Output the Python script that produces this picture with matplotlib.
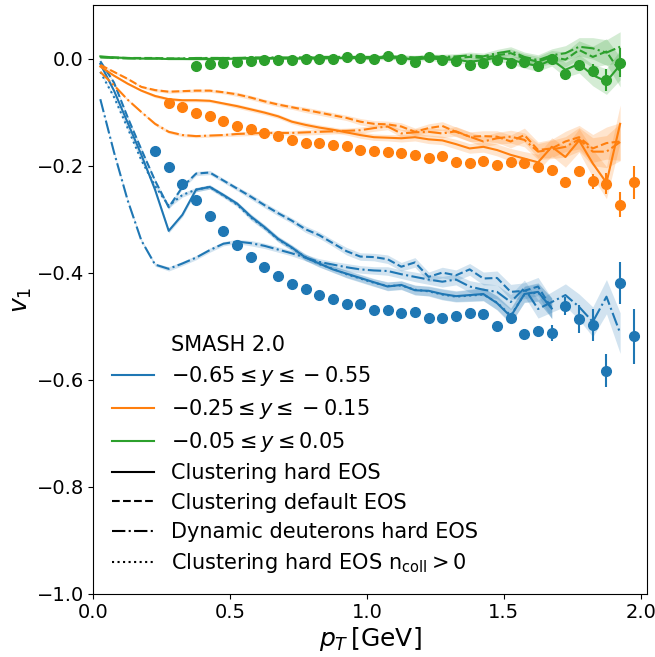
"""Directed flow v1 of deuterons vs pT: SMASH 2.0 models against data."""
import matplotlib

matplotlib.use("Agg")
import matplotlib.pyplot as plt
import numpy as np
from matplotlib.ticker import MultipleLocator

# --- model curves, pT bins of 0.05 GeV starting at 0.025 ---
pt_model = np.round(np.arange(0.025, 1.95, 0.05), 3)

blue_solid = [-0.010, -0.060, -0.120, -0.180, -0.245, -0.322, -0.292, -0.245, -0.240, -0.255,
              -0.271, -0.295, -0.315, -0.337, -0.353, -0.372, -0.383, -0.394, -0.402, -0.410,
              -0.418, -0.426, -0.423, -0.433, -0.434, -0.440, -0.444, -0.442, -0.440, -0.457,
              -0.482, -0.440, -0.436, -0.467]
blue_dashed = [-0.005, -0.045, -0.110, -0.170, -0.228, -0.278, -0.240, -0.215, -0.213, -0.228,
               -0.243, -0.258, -0.274, -0.289, -0.303, -0.319, -0.330, -0.345, -0.360, -0.370,
               -0.371, -0.375, -0.389, -0.381, -0.408, -0.400, -0.405, -0.394, -0.411, -0.410,
               -0.436, -0.434, -0.426, -0.467]
blue_dashdot = [-0.076, -0.175, -0.265, -0.340, -0.385, -0.393, -0.383, -0.372, -0.358, -0.346,
                -0.342, -0.345, -0.350, -0.357, -0.364, -0.372, -0.380, -0.385, -0.390, -0.394,
                -0.396, -0.397, -0.403, -0.408, -0.413, -0.417, -0.413, -0.426, -0.432, -0.436,
                -0.455, -0.429, -0.468, -0.455, -0.442, -0.464, -0.492, -0.445, -0.513]
blue_dotted = [-0.025, -0.072, -0.130, -0.190, -0.238, -0.275, -0.255, -0.245, -0.240, -0.256,
               -0.273, -0.297, -0.316, -0.338, -0.354, -0.371, -0.384, -0.393, -0.403, -0.411,
               -0.419, -0.425, -0.424, -0.432, -0.435, -0.441, -0.445, -0.443, -0.441, -0.456,
               -0.480, -0.441, -0.437, -0.466]

orange_solid = [-0.015, -0.032, -0.047, -0.060, -0.070, -0.076, -0.078, -0.078, -0.079, -0.084,
                -0.089, -0.095, -0.101, -0.108, -0.118, -0.124, -0.129, -0.133, -0.138, -0.143,
                -0.147, -0.148, -0.149, -0.147, -0.151, -0.153, -0.160, -0.168, -0.165, -0.171,
                -0.180, -0.187, -0.194, -0.165, -0.184, -0.153, -0.196, -0.232, -0.122]
orange_dashed = [-0.012, -0.025, -0.038, -0.053, -0.059, -0.062, -0.061, -0.060, -0.060, -0.063,
                 -0.067, -0.073, -0.080, -0.086, -0.091, -0.096, -0.101, -0.106, -0.111, -0.118,
                 -0.122, -0.123, -0.127, -0.137, -0.130, -0.126, -0.137, -0.146, -0.145, -0.146,
                 -0.155, -0.143, -0.171, -0.168, -0.155, -0.147, -0.168, -0.158, -0.155]
orange_dashdot = [-0.025, -0.050, -0.077, -0.100, -0.122, -0.137, -0.143, -0.145, -0.144, -0.143,
                  -0.141, -0.140, -0.139, -0.139, -0.139, -0.138, -0.137, -0.136, -0.135, -0.134,
                  -0.130, -0.127, -0.140, -0.138, -0.137, -0.140, -0.136, -0.146, -0.155, -0.149,
                  -0.146, -0.152, -0.174, -0.170, -0.165, -0.151, -0.174, -0.174, -0.156]

green_solid = [0.004, 0.002, 0.001, 0.000, 0.000, -0.001, -0.001, -0.001, -0.001, -0.001,
               0.000, 0.000, 0.000, 0.000, 0.000, 0.000, 0.000, 0.001, 0.001, 0.001,
               0.000, 0.002, 0.001, -0.002, 0.001, -0.002, -0.002, -0.006, -0.003, 0.002,
               -0.002, -0.009, -0.014, -0.002, -0.021, -0.010, -0.031, -0.043, -0.012]
green_dashed = [0.003, 0.002, 0.001, 0.001, 0.001, 0.000, 0.000, 0.000, 0.001, 0.001,
                0.001, 0.001, 0.001, 0.001, 0.001, 0.001, 0.002, 0.002, 0.002, 0.002,
                0.002, 0.003, 0.002, 0.001, 0.003, 0.002, 0.001, 0.003, 0.001, 0.006,
                0.010, 0.000, -0.006, 0.003, -0.002, 0.016, 0.003, 0.013, -0.025]
green_dashdot = [0.002, 0.001, 0.000, 0.000, 0.000, 0.000, 0.000, 0.001, 0.001, 0.001,
                 0.001, 0.002, 0.002, 0.002, 0.002, 0.002, 0.003, 0.003, 0.003, 0.003,
                 0.003, 0.004, 0.003, 0.002, 0.004, 0.003, 0.004, 0.006, 0.004, 0.010,
                 0.014, 0.003, -0.003, 0.006, 0.010, 0.022, 0.019, 0.011, 0.022]

# statistical band half-widths of the model curves
blue_band = [0.002, 0.002, 0.003, 0.003, 0.003, 0.004, 0.004, 0.004, 0.004, 0.004,
             0.004, 0.005, 0.005, 0.005, 0.005, 0.006, 0.006, 0.006, 0.007, 0.007,
             0.007, 0.008, 0.008, 0.009, 0.009, 0.010, 0.010, 0.011, 0.012, 0.013,
             0.014, 0.015, 0.017, 0.019, 0.021, 0.024, 0.028, 0.032, 0.038]
orange_band = [0.002, 0.002, 0.002, 0.002, 0.003, 0.003, 0.003, 0.003, 0.003, 0.003,
               0.004, 0.004, 0.004, 0.004, 0.004, 0.005, 0.005, 0.005, 0.005, 0.006,
               0.006, 0.006, 0.007, 0.007, 0.008, 0.008, 0.009, 0.009, 0.010, 0.011,
               0.012, 0.013, 0.015, 0.017, 0.019, 0.022, 0.026, 0.030, 0.035]
green_band = [0.001, 0.001, 0.001, 0.001, 0.001, 0.001, 0.001, 0.002, 0.002, 0.002,
              0.002, 0.002, 0.002, 0.002, 0.002, 0.003, 0.003, 0.003, 0.003, 0.003,
              0.003, 0.004, 0.004, 0.004, 0.004, 0.005, 0.005, 0.006, 0.006, 0.007,
              0.008, 0.009, 0.010, 0.012, 0.014, 0.017, 0.020, 0.024, 0.028]

# --- measured points ---
blue_pt = np.round(np.arange(0.225, 2.0, 0.05), 3)
blue_v1 = [-0.173, -0.202, -0.235, -0.264, -0.294, -0.322, -0.349, -0.370, -0.390, -0.407,
           -0.421, -0.431, -0.442, -0.450, -0.459, -0.458, -0.470, -0.470, -0.475, -0.473,
           -0.484, -0.484, -0.481, -0.475, -0.478, -0.499, -0.485, -0.515, -0.509, -0.513,
           -0.462, -0.486, -0.498, -0.583, -0.419, -0.519]
blue_err = [0.002, 0.002, 0.002, 0.002, 0.002, 0.002, 0.002, 0.002, 0.002, 0.002,
            0.002, 0.002, 0.002, 0.003, 0.003, 0.003, 0.003, 0.003, 0.003, 0.004,
            0.004, 0.004, 0.004, 0.004, 0.005, 0.006, 0.007, 0.010, 0.010, 0.015,
            0.017, 0.026, 0.030, 0.030, 0.039, 0.051]

orange_pt = np.round(np.arange(0.275, 2.0, 0.05), 3)
orange_v1 = [-0.084, -0.091, -0.101, -0.107, -0.117, -0.126, -0.132, -0.139, -0.145, -0.152,
             -0.157, -0.158, -0.162, -0.163, -0.171, -0.172, -0.174, -0.176, -0.180, -0.186,
             -0.182, -0.194, -0.196, -0.191, -0.199, -0.193, -0.196, -0.203, -0.208, -0.231,
             -0.210, -0.229, -0.234, -0.273, -0.231]
orange_err = [0.001, 0.001, 0.001, 0.001, 0.001, 0.001, 0.001, 0.001, 0.001, 0.001,
              0.001, 0.002, 0.002, 0.002, 0.002, 0.002, 0.002, 0.002, 0.002, 0.002,
              0.003, 0.003, 0.003, 0.003, 0.003, 0.004, 0.004, 0.004, 0.005, 0.009,
              0.010, 0.014, 0.020, 0.023, 0.031]

green_pt = np.round(np.arange(0.375, 1.95, 0.05), 3)
green_v1 = [-0.014, -0.011, -0.008, -0.0065, -0.005, -0.0035, -0.002, -0.003, 0.000, 0.000,
            0.000, 0.002, 0.001, -0.001, 0.005, 0.000, -0.006, 0.003, -0.003, -0.004,
            -0.012, -0.008, -0.002, -0.008, -0.006, -0.014, 0.000, -0.029, -0.012, -0.023,
            -0.040, -0.008]
green_err = [0.001, 0.001, 0.001, 0.001, 0.001, 0.001, 0.001, 0.001, 0.001, 0.001,
             0.001, 0.001, 0.002, 0.002, 0.002, 0.002, 0.002, 0.002, 0.002, 0.003,
             0.003, 0.003, 0.003, 0.004, 0.004, 0.005, 0.006, 0.010, 0.010, 0.012,
             0.020, 0.027]

rapidity_labels = [r"$-0.65 \leq y \leq -0.55$",
                   r"$-0.25 \leq y \leq -0.15$",
                   r"$-0.05 \leq y \leq 0.05$"]
model_labels = ["Clustering hard EOS", "Clustering default EOS",
                "Dynamic deuterons hard EOS", r"Clustering hard EOS n$_{\rm coll} > 0$"]
model_styles = ["-", "--", "-.", ":"]

colors = ["tab:blue", "tab:orange", "tab:green"]

fig = plt.figure(figsize=(6.55, 6.57), dpi=100)
ax = fig.add_axes([0.1427, 0.0963, 0.8446, 0.8961])


def draw_model(values, band, color, ls):
    n = len(values)
    x = pt_model[:n]
    y = np.asarray(values)
    e = np.asarray(band[:n])
    ax.fill_between(x, y - e, y + e, color=color, alpha=0.2, linewidth=0)
    ax.plot(x, y, color=color, linestyle=ls, linewidth=1.5)


curves = [
    (colors[0], blue_band, [blue_solid, blue_dashed, blue_dashdot, blue_dotted]),
    (colors[1], orange_band, [orange_solid, orange_dashed, orange_dashdot]),
    (colors[2], green_band, [green_solid, green_dashed, green_dashdot]),
]
for color, band, series in curves:
    for values, ls in zip(series, model_styles):
        draw_model(values, band, color, ls)

for x, y, err, color in [(blue_pt, blue_v1, blue_err, colors[0]),
                         (orange_pt, orange_v1, orange_err, colors[1]),
                         (green_pt, green_v1, green_err, colors[2])]:
    ax.errorbar(x, y, yerr=err, fmt="o", color=color, markersize=7,
                elinewidth=1.5, capsize=0, zorder=5)

ax.set_xlim(0, 2.022)
ax.set_ylim(-1.0, 0.1)
ax.xaxis.set_major_locator(MultipleLocator(0.5))
ax.set_xlabel(r"$p_T\,$[GeV]", fontsize=18, labelpad=2)
ax.set_ylabel(r"$v_1$", fontsize=18, labelpad=2)
ax.tick_params(labelsize=14)

handles = [ax.plot([], [], " ")[0]]
labels = ["SMASH 2.0"]
for color, lab in zip(colors, rapidity_labels):
    handles.append(plt.Line2D([], [], color=color, linewidth=1.5))
    labels.append(lab)
for ls, lab in zip(model_styles, model_labels):
    handles.append(plt.Line2D([], [], color="black", linestyle=ls, linewidth=1.5))
    labels.append(lab)
ax.legend(handles, labels, loc="lower left", frameon=False, fontsize=15,
          labelspacing=0.44)

fig.savefig("out.png", dpi=100)
